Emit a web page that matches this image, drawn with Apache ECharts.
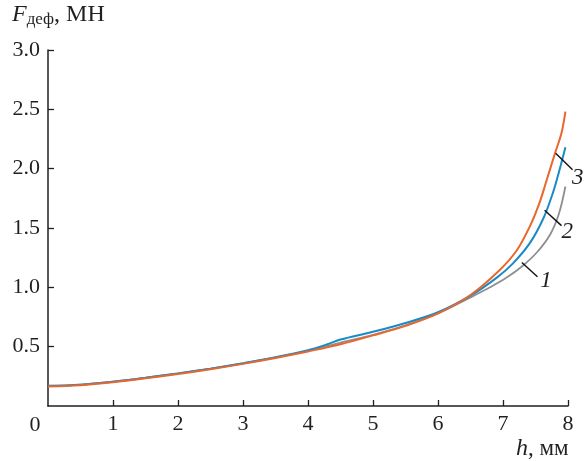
<!DOCTYPE html>
<html><head><meta charset="utf-8">
<script src="https://cdn.jsdelivr.net/npm/echarts@6/dist/echarts.min.js"></script>
<style>html,body{margin:0;padding:0;background:#fff}#c{width:585px;height:461px}</style>
</head><body><div id="c"></div>
<script>
// Curve 1 (gray)
const h1 = [0, 0.5, 1, 1.5, 2, 2.5, 3, 3.5, 4, 4.5, 5, 5.5, 6, 6.5, 6.8, 7.05, 7.3, 7.53, 7.73, 7.86, 7.96];
const f1 = [0.17, 0.18, 0.205, 0.238, 0.275, 0.315, 0.36, 0.41, 0.465, 0.535, 0.6, 0.68, 0.78, 0.915, 1.0, 1.08, 1.18, 1.3, 1.45, 1.62, 1.85];
// Curve 2 (blue)
const h2 = [0, 0.5, 1, 1.5, 2, 2.5, 3, 3.5, 4, 4.3, 4.5, 5, 5.5, 6, 6.5, 6.9, 7.15, 7.41, 7.62, 7.77, 7.87, 7.96];
const f2 = [0.17, 0.18, 0.205, 0.238, 0.275, 0.315, 0.36, 0.41, 0.47, 0.52, 0.56, 0.625, 0.7, 0.79, 0.93, 1.08, 1.2, 1.37, 1.58, 1.8, 1.99, 2.18];
// Curve 3 (orange)
const h3 = [0, 0.5, 1, 1.5, 2, 2.5, 3, 3.5, 4, 4.5, 5, 5.5, 6, 6.5, 6.95, 7.21, 7.41, 7.56, 7.67, 7.8, 7.9, 7.96];
const f3 = [0.165, 0.175, 0.2, 0.233, 0.27, 0.31, 0.355, 0.405, 0.46, 0.52, 0.595, 0.675, 0.78, 0.935, 1.146, 1.31, 1.51, 1.71, 1.9, 2.13, 2.3, 2.48];
// tick labels
const xTicks = [0, 1, 2, 3, 4, 5, 6, 7, 8];
const yTicks = ['0', '0.5', '1.0', '1.5', '2.0', '2.5', '3.0'];
// curve annotation labels: [label, leader start h, start F, end h, end F, text h, text F]
const notes = [
  ['3', 7.81, 2.13, 8.07, 1.99, 8.15, 1.92],
  ['2', 7.64, 1.65, 7.90, 1.52, 7.99, 1.47],
  ['1', 7.29, 1.21, 7.53, 1.09, 7.66, 1.05]
];
const colors = ['#8e8f91', '#1a8ac6', '#e8672c'];

const chart = echarts.init(document.getElementById('c'));
const serif = 'Liberation Serif';
const txt = '#231f20';
function zip(a, b) { return a.map((v, i) => [v, b[i]]); }
const option = {
  animation: false,
  grid: { left: 48, right: 17, top: 50, bottom: 55, containLabel: false },
  xAxis: {
    type: 'value', min: xTicks[0], max: xTicks[xTicks.length - 1], interval: 1,
    axisLine: { lineStyle: { color: txt, width: 1.5 } },
    axisTick: { inside: true, length: 6, lineStyle: { color: txt, width: 1.3 } },
    splitLine: { show: false },
    axisLabel: { showMinLabel: false, color: txt, fontFamily: serif, fontSize: 22, margin: 7 }
  },
  yAxis: {
    type: 'value', min: 0, max: 3, interval: 0.5,
    axisLine: { lineStyle: { color: txt, width: 1.5 } },
    axisTick: { inside: true, length: 6, lineStyle: { color: txt, width: 1.3 } },
    splitLine: { show: false },
    axisLabel: { showMinLabel: false, color: txt, fontFamily: serif, fontSize: 22, margin: 8,
      formatter: v => yTicks[Math.round(v * 2)] }
  },
  series: [
    { type: 'line', smooth: 0.35, symbol: 'none', data: zip(h1, f1), z: 2, lineStyle: { color: colors[0], width: 1.8 } },
    { type: 'line', smooth: 0.35, symbol: 'none', data: zip(h2, f2), z: 3, lineStyle: { color: colors[1], width: 2 } },
    { type: 'line', smooth: 0.35, symbol: 'none', data: zip(h3, f3), z: 4, lineStyle: { color: colors[2], width: 2 } }
  ]
};
chart.setOption(option);

const g = [];
g.push({ type: 'text', left: 12, top: 3, style: {
  text: '{f|F}{s|деф}{n|, МН}',
  rich: {
    f: { fontFamily: serif, fontStyle: 'italic', fontSize: 24, fill: txt },
    s: { fontFamily: serif, fontSize: 17, fill: txt, padding: [9, 0, 0, 0] },
    n: { fontFamily: serif, fontSize: 24, fill: txt }
  } } });
g.push({ type: 'text', left: 516, top: 437, style: {
  text: '{f|h}{n|, мм}',
  rich: {
    f: { fontFamily: serif, fontStyle: 'italic', fontSize: 24, fill: txt },
    n: { fontFamily: serif, fontSize: 23, fill: txt }
  } } });
const p0 = chart.convertToPixel({ gridIndex: 0 }, [0, 0]);
g.push({ type: 'text', x: p0[0] - 13, y: p0[1] + 19, style: {
  text: String(xTicks[0]), fontFamily: serif, fontSize: 22, fill: txt, align: 'center', verticalAlign: 'middle' } });
notes.forEach(n => {
  const a = chart.convertToPixel({ gridIndex: 0 }, [n[1], n[2]]);
  const b = chart.convertToPixel({ gridIndex: 0 }, [n[3], n[4]]);
  const t = chart.convertToPixel({ gridIndex: 0 }, [n[5], n[6]]);
  g.push({ type: 'line', shape: { x1: a[0], y1: a[1], x2: b[0], y2: b[1] }, style: { stroke: '#111', lineWidth: 1.4 }, z: 10 });
  g.push({ type: 'text', x: t[0], y: t[1], z: 10, style: { text: n[0], fontFamily: serif, fontStyle: 'italic', fontSize: 23, fill: txt, align: 'center', verticalAlign: 'middle' } });
});
chart.setOption({ graphic: g });
</script>
</body></html>
